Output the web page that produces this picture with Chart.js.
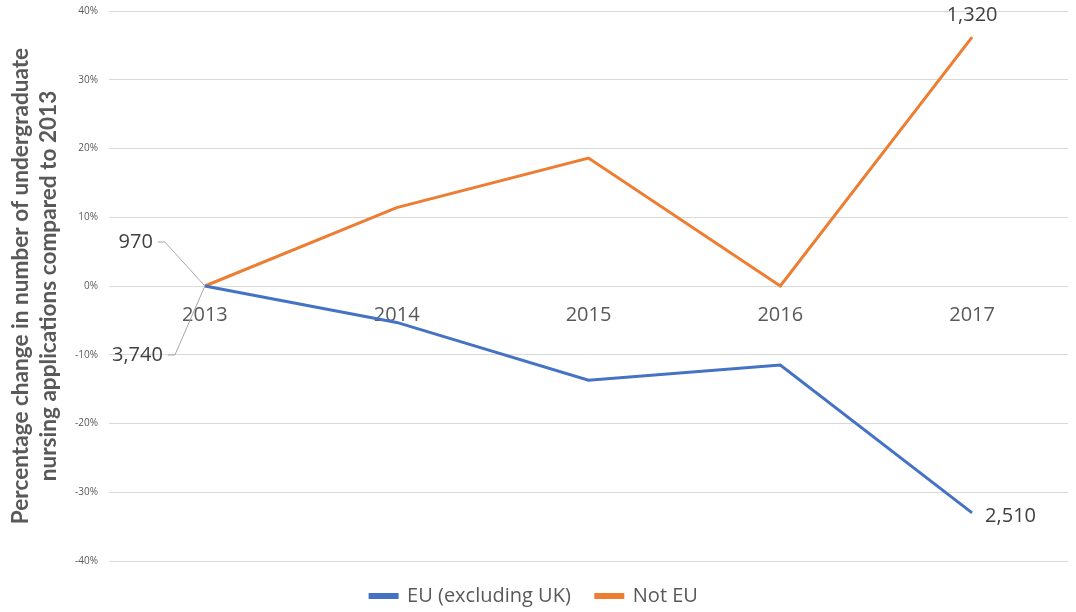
<!DOCTYPE html>
<html>
<head>
<meta charset="utf-8">
<script src="https://cdn.jsdelivr.net/npm/chart.js@4.4.1/dist/chart.umd.min.js"></script>
<style>
  html, body { margin: 0; padding: 0; background: #fff; }
  #wrap { width: 1076px; height: 612px; }
</style>
</head>
<body>
<div id="wrap"><canvas id="chart"></canvas></div>
<script>
// years on the x axis
const years = ["2013", "2014", "2015", "2016", "2017"]

// % change compared to 2013
const euValues = [0, -5.3, -13.7, -11.5, -33.0]
const notEuValues = [0, 11.4, 18.6, 0, 36.2]

// application counts shown at the first and last point
const euCounts = ["3,740", null, null, null, "2,510"]
const notEuCounts = ["970", null, null, null, "1,320"]

const yTicks = [-40, -30, -20, -10, 0, 10, 20, 30, 40]

const FONT = "'Open Sans', sans-serif"

// where each count label sits relative to its point (dx, dy, align, leader)
const labelPlacement = {
  "0-0": { dx: -42, dy: 69, align: "right", leader: true },
  "0-4": { dx: 13, dy: 3, align: "left", leader: false },
  "1-0": { dx: -52, dy: -44, align: "right", leader: true },
  "1-4": { dx: 0, dy: -22, align: "center", leader: false }
}

const countLabels = {
  id: "countLabels",
  afterDatasetsDraw(chart) {
    const ctx = chart.ctx
    ctx.save()
    ctx.font = "20px " + FONT
    ctx.textBaseline = "middle"
    chart.data.datasets.forEach((ds, di) => {
      const meta = chart.getDatasetMeta(di)
      ds.counts.forEach((txt, i) => {
        if (!txt) return
        const pt = meta.data[i]
        const p = labelPlacement[di + "-" + i]
        const tx = pt.x + p.dx
        const ty = pt.y + p.dy
        if (p.leader) {
          ctx.strokeStyle = "#A6A6A6"
          ctx.lineWidth = 1
          ctx.beginPath()
          ctx.moveTo(tx + 5, ty)
          ctx.lineTo(tx + 12, ty)
          ctx.lineTo(pt.x, pt.y)
          ctx.stroke()
        }
        ctx.fillStyle = "#404040"
        ctx.textAlign = p.align
        ctx.fillText(txt, tx, ty)
      })
    })
    ctx.restore()
  }
}

const ctx = document.getElementById("chart").getContext("2d")

new Chart(ctx, {
  type: "line",
  data: {
    labels: years,
    datasets: [
      {
        label: "EU (excluding UK)",
        data: euValues,
        counts: euCounts,
        borderColor: "#4472C4",
        backgroundColor: "#4472C4",
        borderWidth: 3,
        pointRadius: 0,
        tension: 0
      },
      {
        label: "Not EU",
        data: notEuValues,
        counts: notEuCounts,
        borderColor: "#ED7D31",
        backgroundColor: "#ED7D31",
        borderWidth: 3,
        pointRadius: 0,
        tension: 0
      }
    ]
  },
  options: {
    responsive: true,
    maintainAspectRatio: false,
    animation: false,
    layout: {
      padding: { top: 11, right: 8, left: 0, bottom: -4 }
    },
    scales: {
      x: {
        type: "category",
        offset: true,
        position: { y: 0 },
        grid: { display: false, drawTicks: false },
        border: { display: false },
        ticks: {
          color: "#595959",
          font: { family: FONT, size: 20 },
          padding: 17,
          maxRotation: 0
        }
      },
      y: {
        min: -40,
        max: 40,
        afterBuildTicks: (scale) => {
          scale.ticks = yTicks.map(v => ({ value: v }))
        },
        afterFit: (scale) => {
          scale.width = 109
        },
        // invisible tick marks push the labels away from the plot
        grid: { color: "#D9D9D9", lineWidth: 1, drawTicks: true, tickLength: 11, tickColor: "rgba(0,0,0,0)" },
        border: { display: false },
        ticks: {
          color: "#595959",
          font: { family: FONT, size: 10 },
          padding: 0,
          callback: (v) => v + "%"
        },
        title: {
          display: true,
          text: ["Percentage change in number of undergraduate", "nursing applications compared to 2013"],
          color: "#595959",
          font: { family: "Lato, sans-serif", size: 22.6, weight: "bold", lineHeight: 1.27 },
          padding: { top: 6, bottom: 0 }
        }
      }
    },
    plugins: {
      legend: {
        position: "bottom",
        labels: {
          color: "#595959",
          font: { family: FONT, size: 20 },
          boxWidth: 27,
          boxHeight: 3,
          padding: 25
        }
      },
      tooltip: { enabled: false }
    }
  },
  plugins: [countLabels]
})
</script>
</body>
</html>
